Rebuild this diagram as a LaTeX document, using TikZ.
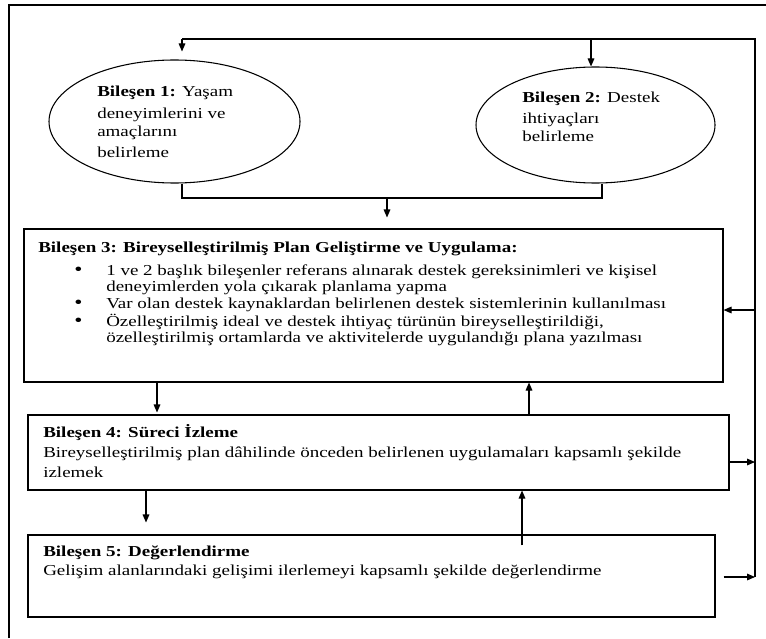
\documentclass[tikz,border=0pt]{standalone}
\usepackage{fontspec}
\setmainfont{Liberation Serif}[FakeStretch=1.25]
\usetikzlibrary{arrows.meta,shapes.geometric}
\tikzset{
  ln/.style={line width=0.8pt, draw=black},
  arr/.style={ln, -{Triangle[length=6pt,width=5pt]}},
  boxnode/.style={ln, rectangle, inner sep=0pt},
  ellnode/.style={ln, ellipse, inner sep=0pt},
  txt/.style={inner sep=0pt, anchor=base west, font=\fontsize{11.4}{13}\selectfont},
  bul/.style={inner sep=0pt, anchor=base west, font=\fontsize{14}{13}\selectfont},
}
\begin{document}
\begin{tikzpicture}[x=0.75pt,y=-0.75pt]
\useasboundingbox (0,0) rectangle (766,638);
% frame
\coordinate (f0) at (9,638);
\coordinate (f1) at (9,5);
\coordinate (f2) at (766,5);
\draw[ln] (f0) -- (f1) -- (f2);
% shapes
\node[ellnode, minimum width=188.25pt, minimum height=92.25pt] (e1) at (174.5,121.5) {};
\node[ellnode, minimum width=179.25pt, minimum height=87pt] (e2) at (595.5,125) {};
\node[boxnode, minimum width=524.25pt, minimum height=114.75pt] (b3) at (373.5,305.5) {};
\node[boxnode, minimum width=525.75pt, minimum height=56.25pt] (b4) at (378.5,452.5) {};
\node[boxnode, minimum width=515.25pt, minimum height=61.5pt] (b5) at (371.5,576) {};
% texts ellipse 1
\node[txt] (t11) at (97,97) {\textbf{Bileşen 1:} Yaşam};
\node[txt] (t12) at (97,118) {deneyimlerini ve};
\node[txt] (t13) at (97,137) {amaçlarını};
\node[txt] (t14) at (97,157) {belirleme};
% ellipse 2
\node[txt] (t21) at (522,103) {\textbf{Bileşen 2:} Destek};
\node[txt] (t22) at (522,123) {ihtiyaçları};
\node[txt] (t23) at (522,142) {belirleme};
% box 3
\node[txt] (t30) at (38,252) {\textbf{Bileşen 3: Bireyselleştirilmiş Plan Geliştirme ve Uygulama:}};
\node[bul] (u1) at (74,275) {•};
\node[bul] (u2) at (74,308) {•};
\node[bul] (u3) at (74,326) {•};
\node[txt] (t31) at (106,275) {1 ve 2 başlık bileşenler referans alınarak destek gereksinimleri ve kişisel};
\node[txt] (t32) at (106,291) {deneyimlerden yola çıkarak planlama yapma};
\node[txt] (t33) at (106,308) {Var olan destek kaynaklardan belirlenen destek sistemlerinin kullanılması};
\node[txt] (t34) at (106,326) {Özelleştirilmiş ideal ve destek ihtiyaç türünün bireyselleştirildiği,};
\node[txt] (t35) at (106,342) {özelleştirilmiş ortamlarda ve aktivitelerde uygulandığı plana yazılması};
% box 4
\node[txt] (t41) at (43,437) {\textbf{Bileşen 4: Süreci İzleme}};
\node[txt] (t42) at (43,457) {Bireyselleştirilmiş plan dâhilinde önceden belirlenen uygulamaları kapsamlı şekilde};
\node[txt] (t43) at (43,477) {izlemek};
% box 5
\node[txt] (t51) at (43,556) {\textbf{Bileşen 5: Değerlendirme}};
\node[txt] (t52) at (43,575) {Gelişim alanlarındaki gelişimi ilerlemeyi kapsamlı şekilde değerlendirme};
% connector coordinates
\coordinate (ja) at (182,39);
\coordinate (jb) at (591,39);
\coordinate (rt) at (755,39);
\coordinate (rb) at (755,577);
\coordinate (r3) at (755,310);
\coordinate (r4) at (755,462);
\coordinate (c1) at (182,198);
\coordinate (c2) at (602,198);
\coordinate (cm) at (387,198);
% feedback loop
\draw[ln] (ja) -- (rt) -- (rb);
\draw[arr, shorten >=6pt] (ja) -- (ja |- e1.north);
\draw[arr] (jb) -- (jb |- e2.north);
\draw[arr] (r3) -- (r3 -| b3.east);
\draw[arr] (b4.east |- r4) -- (r4);
\draw[arr] ([xshift=6pt]b5.east |- rb) -- (rb);
% ellipses to box 3
\draw[ln] (c1 |- e1.south) -- (c1) -- (c2) -- (c2 |- e2.south);
\draw[arr, shorten >=8.25pt] (cm) -- (cm |- b3.north);
% between boxes
\coordinate (d34) at (157,0);
\coordinate (u43) at (529,0);
\coordinate (d45) at (146,0);
\coordinate (u54) at (522,0);
\draw[arr, shorten >=1.5pt] (d34 |- b3.south) -- (d34 |- b4.north);
\draw[arr] (u43 |- b4.north) -- (u43 |- b3.south);
\draw[arr, shorten >=9pt] (d45 |- b4.south) -- (d45 |- b5.north);
\draw[arr] ([yshift=-8.25pt]u54 |- b5.north) -- (u54 |- b4.south);
\end{tikzpicture}
\end{document}
